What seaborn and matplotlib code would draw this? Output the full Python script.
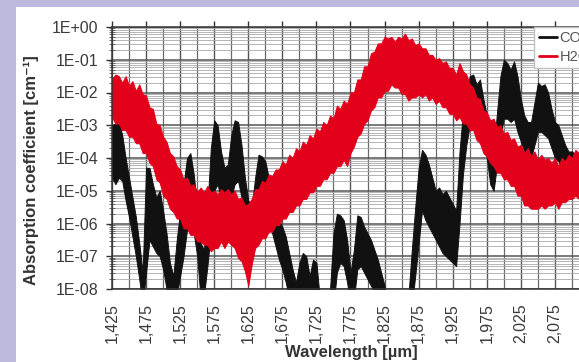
import numpy as np
import pandas as pd
import matplotlib
matplotlib.use("Agg")
import matplotlib.pyplot as plt
import seaborn as sns
from matplotlib.patches import Rectangle
from matplotlib.ticker import FixedLocator, LogLocator, NullFormatter

# ---------------- data ----------------
wavelength_um = [
    1.425, 1.430, 1.435, 1.440, 1.445, 1.450, 1.455, 1.460, 1.465, 1.470,
    1.475, 1.480, 1.485, 1.490, 1.495, 1.500, 1.505, 1.510, 1.515, 1.520,
    1.525, 1.530, 1.535, 1.540, 1.545, 1.550, 1.555, 1.560, 1.565, 1.570,
    1.575, 1.580, 1.585, 1.590, 1.595, 1.600, 1.605, 1.610, 1.615, 1.620,
    1.625, 1.630, 1.635, 1.640, 1.645, 1.650, 1.655, 1.660, 1.665, 1.670,
    1.675, 1.680, 1.685, 1.690, 1.695, 1.700, 1.705, 1.710, 1.715, 1.720,
    1.725, 1.730, 1.735, 1.740, 1.745, 1.750, 1.755, 1.760, 1.765, 1.770,
    1.775, 1.780, 1.785, 1.790, 1.795, 1.800, 1.805, 1.810, 1.815, 1.820,
    1.825, 1.830, 1.835, 1.840, 1.845, 1.850, 1.855, 1.860, 1.865, 1.870,
    1.875, 1.880, 1.885, 1.890, 1.895, 1.900, 1.905, 1.910, 1.915, 1.920,
    1.925, 1.930, 1.935, 1.940, 1.945, 1.950, 1.955, 1.960, 1.965, 1.970,
    1.975, 1.980, 1.985, 1.990, 1.995, 2.000, 2.005, 2.010, 2.015, 2.020,
    2.025, 2.030, 2.035, 2.040, 2.045, 2.050, 2.055, 2.060, 2.065, 2.070,
    2.075, 2.080, 2.085, 2.090, 2.095, 2.100, 2.105, 2.110,
]

# log10 of absorption coefficient [cm^-1]: upper and lower envelope of each band
co2_upper_exp = [
    -3.0, -2.95, -2.9, -3.3, -4.0, -4.6, -5.2, -5.8, -6.6, -7.5,
    -4.3, -4.3, -4.8, -5.2, -5.0, -5.6, -6.3, -7.2, -7.6, -6.5,
    -5.6, -4.8, -4.0, -3.85, -4.5, -5.5, -6.6, -6.8, -5.5, -3.7,
    -2.85, -3.0, -3.8, -4.3, -4.2, -3.3, -2.85, -2.9, -3.6, -4.6,
    -5.3, -5.5, -4.6, -3.9, -3.95, -4.1, -4.6, -5.0, -5.5, -5.9,
    -6.1, -6.4, -6.9, -7.4, -7.8, -7.2, -6.9, -7.0, -7.6, -7.1,
    -7.2, -8.3, -9.0, -9.0, -8.0, -6.3, -5.7, -5.75, -5.9, -6.5,
    -7.5, -6.8, -5.75, -5.8, -6.1, -6.3, -6.5, -6.8, -7.1, -7.5,
    -7.9, -9.0, -9.0, -9.0, -9.0, -9.0, -9.0, -8.2, -6.8, -5.5,
    -4.3, -3.75, -3.9, -4.2, -4.6, -5.0, -4.9, -5.1, -5.0, -5.2,
    -5.4, -5.6, -3.8, -2.6, -2.0, -1.5, -1.45, -1.75, -1.6, -2.2,
    -2.7, -3.5, -3.8, -2.6, -1.5, -1.0, -1.1, -1.3, -1.05, -1.5,
    -2.2, -2.7, -2.9, -2.9, -2.3, -1.7, -1.8, -1.75, -2.0, -2.5,
    -2.9, -3.0, -3.3, -3.6, -3.8, -3.8, -3.9, -3.9,
]
co2_lower_exp = [
    -4.6, -4.8, -4.6, -4.7, -5.3, -5.8, -6.4, -7.0, -7.7, -8.5,
    -7.5, -6.5, -6.7, -6.9, -7.0, -7.4, -8.0, -8.5, -8.5, -8.2,
    -7.6, -7.0, -6.2, -5.8, -6.3, -7.0, -8.3, -8.2, -7.3, -6.3,
    -5.0, -4.8, -5.3, -5.8, -5.8, -5.2, -4.8, -4.7, -5.2, -5.8,
    -6.4, -6.6, -6.2, -5.6, -5.5, -5.6, -5.9, -6.3, -6.7, -7.1,
    -7.4, -7.8, -8.3, -8.5, -8.5, -8.5, -8.3, -8.3, -8.5, -8.5,
    -8.5, -9.0, -9.5, -9.5, -9.0, -8.5, -7.5, -7.2, -7.3, -7.8,
    -8.5, -8.3, -7.4, -7.3, -7.5, -7.7, -7.9, -8.1, -8.3, -8.5,
    -9.0, -9.5, -9.5, -9.5, -9.5, -9.5, -9.5, -9.0, -8.5, -7.6,
    -6.6, -5.6, -5.9, -6.1, -6.3, -6.5, -6.7, -6.9, -7.0, -7.1,
    -7.2, -7.3, -6.0, -4.5, -3.6, -3.0, -2.9, -3.1, -3.0, -3.5,
    -4.0, -4.8, -5.0, -4.2, -3.3, -2.8, -2.8, -2.9, -2.8, -3.2,
    -3.5, -3.8, -4.0, -4.0, -3.6, -3.2, -3.2, -3.3, -3.4, -3.7,
    -4.0, -4.1, -4.3, -4.4, -4.5, -4.5, -4.5, -4.5,
]
h2o_upper_exp = [
    -1.6, -1.45, -1.5, -1.7, -1.5, -1.8, -1.65, -1.95, -1.75, -2.05,
    -2.1, -2.45, -2.5, -2.95, -3.0, -3.35, -3.5, -3.85, -3.95, -4.25,
    -4.35, -4.65, -4.6, -4.85, -4.8, -5.05, -4.9, -5.05, -4.85, -5.05,
    -5.0, -5.1, -4.95, -5.05, -4.95, -5.1, -5.0, -5.25, -5.2, -5.45,
    -5.4, -5.25, -4.95, -4.95, -4.7, -4.75, -4.5, -4.55, -4.35, -4.35,
    -4.1, -4.2, -3.9, -4.0, -3.7, -3.8, -3.5, -3.6, -3.3, -3.4,
    -3.1, -3.2, -2.9, -3.0, -2.7, -2.8, -2.4, -2.5, -2.25, -2.35,
    -2.0, -2.0, -1.6, -1.6, -1.2, -1.2, -0.8, -0.75, -0.5, -0.5,
    -0.3, -0.35, -0.3, -0.45, -0.3, -0.35, -0.2, -0.4, -0.35, -0.55,
    -0.5, -0.65, -0.65, -0.85, -0.85, -1.0, -0.95, -1.1, -1.05, -1.25,
    -1.25, -1.45, -1.1, -1.35, -1.45, -1.75, -1.85, -2.15, -2.2, -2.55,
    -2.6, -2.85, -2.8, -3.05, -3.0, -3.25, -3.2, -3.45, -3.4, -3.65,
    -3.6, -3.85, -3.7, -3.95, -3.8, -4.05, -3.9, -4.05, -4.0, -4.15,
    -4.0, -4.25, -4.0, -4.1, -3.9, -4.0, -3.75, -3.85,
]
h2o_lower_exp = [
    -2.75, -2.95, -2.95, -3.15, -3.15, -3.35, -3.35, -3.55, -3.55, -3.85,
    -3.85, -4.15, -4.25, -4.65, -4.75, -5.15, -5.25, -5.55, -5.65, -5.85,
    -5.85, -6.15, -6.15, -6.35, -6.35, -6.55, -6.55, -6.65, -6.65, -6.85,
    -6.75, -6.75, -6.55, -6.75, -6.55, -6.65, -6.75, -7.05, -7.15, -7.45,
    -7.9, -7.25, -6.75, -6.65, -6.45, -6.45, -6.25, -6.25, -6.05, -6.05,
    -5.85, -5.85, -5.65, -5.65, -5.45, -5.45, -5.25, -5.25, -5.05, -5.05,
    -4.85, -4.85, -4.65, -4.65, -4.45, -4.45, -4.25, -4.25, -4.05, -4.25,
    -3.85, -3.65, -3.35, -3.25, -2.95, -2.85, -2.55, -2.45, -2.15, -2.15,
    -1.95, -1.95, -1.75, -1.85, -1.85, -2.05, -2.05, -2.25, -2.15, -2.15,
    -2.05, -2.15, -2.05, -2.25, -2.15, -2.35, -2.25, -2.45, -2.45, -2.65,
    -2.65, -2.85, -2.75, -2.95, -2.95, -3.15, -3.15, -3.45, -3.55, -3.85,
    -3.95, -4.15, -4.25, -4.45, -4.45, -4.65, -4.65, -4.85, -4.85, -5.15,
    -5.15, -5.45, -5.45, -5.55, -5.55, -5.55, -5.45, -5.55, -5.45, -5.45,
    -5.35, -5.55, -5.35, -5.35, -5.25, -5.25, -5.15, -5.25,
]

series_names = ["CO2", "H2O"]
xtick_values = [1.425, 1.475, 1.525, 1.575, 1.625, 1.675, 1.725, 1.775,
                1.825, 1.875, 1.925, 1.975, 2.025, 2.075]
xtick_labels = ["1,425", "1,475", "1,525", "1,575", "1,625", "1,675", "1,725",
                "1,775", "1,825", "1,875", "1,925", "1,975", "2,025", "2,075"]
ytick_values = [1e0, 1e-1, 1e-2, 1e-3, 1e-4, 1e-5, 1e-6, 1e-7, 1e-8]
ytick_labels = ["1E+00", "1E-01", "1E-02", "1E-03", "1E-04", "1E-05",
                "1E-06", "1E-07", "1E-08"]
x_label = "Wavelength [µm]"
y_label = "Absorption coefficient [cm⁻¹]"

# ---------------- build long table ----------------
rows = []
for name, up, lo in [("CO2", co2_upper_exp, co2_lower_exp),
                     ("H2O", h2o_upper_exp, h2o_lower_exp)]:
    assert len(up) == len(lo) == len(wavelength_um)
    for w, u, l in zip(wavelength_um, up, lo):
        rows.append({"wl": w, "gas": name, "value": 10.0 ** u})
        rows.append({"wl": w, "gas": name, "value": 10.0 ** l})
df = pd.DataFrame(rows)

# ---------------- style ----------------
sns.set_theme(style="white")
plt.rcParams["font.family"] = ["Liberation Sans", "DejaVu Sans"]

W, H = 579, 362
fig = plt.figure(figsize=(W / 100, H / 100), dpi=100)
fig.patch.set_facecolor("#bdb9dc")
fig.patches.append(Rectangle((16 / W, 0), 1, (H - 7) / H, transform=fig.transFigure,
                             facecolor="white", edgecolor="none", zorder=-10))

ax = fig.add_axes([112 / W, (H - 289) / H, 477 / W, 262 / H])
ax.set_zorder(5)
ax.set_facecolor("white")
ax.set_yscale("log")
ax.set_xlim(1.425, 2.125)
ax.set_ylim(1e-8, 1e0)

black = "#111111"
red = "#e3001b"
sns.lineplot(data=df, x="wl", y="value", hue="gas", hue_order=series_names,
             palette=[black, red], estimator="mean", errorbar=("pi", 100),
             err_kws={"alpha": 1.0, "linewidth": 0.7}, linewidth=0.8,
             ax=ax, legend=True)
# bands (min-max of each spectrum) carry the picture; keep the centre lines hidden beneath
for coll, col, z in zip(ax.collections, [black, red], [1.0, 1.2]):
    coll.set_edgecolor(col)
    coll.set_zorder(z)
for ln in ax.lines:
    ln.set_zorder(0.9)

# grid
ax.xaxis.set_major_locator(FixedLocator(xtick_values))
ax.xaxis.set_minor_locator(FixedLocator([v + 0.025 for v in xtick_values]))
ax.yaxis.set_major_locator(FixedLocator(ytick_values))
ax.yaxis.set_minor_locator(LogLocator(base=10, subs=range(2, 10), numticks=20))
ax.yaxis.set_minor_formatter(NullFormatter())
ax.set_axisbelow(True)
ax.grid(True, which="major", axis="y", color="#555555", linewidth=1.1)
ax.grid(True, which="minor", axis="y", color="#a8a8a8", linewidth=0.6)
ax.grid(True, which="major", axis="x", color="#555555", linewidth=1.0)
ax.grid(True, which="minor", axis="x", color="#6a6a6a", linewidth=0.9)

ax.set_xticks(xtick_values)
ax.set_xticklabels(xtick_labels, rotation=90)
ax.set_yticks(ytick_values)
ax.set_yticklabels(ytick_labels)
ax.set_xlim(1.425, 2.125)
ax.set_ylim(1e-8, 1e0)

ax.tick_params(axis="x", which="major", bottom=False, top=True, labelbottom=True,
               labeltop=False, direction="out", length=4, width=1, color="#333333",
               labelsize=11.5, labelcolor="#3a3a3a", pad=6)
ax.tick_params(axis="x", which="minor", bottom=False, top=False)
ax.tick_params(axis="y", which="major", left=True, direction="out", length=4, width=1,
               color="#333333", labelsize=11.5, labelcolor="#3a3a3a", pad=6)
ax.tick_params(axis="y", which="minor", left=True, direction="inout", length=4,
               width=0.6, color="#555555")

for side in ["left", "bottom", "top"]:
    ax.spines[side].set_visible(True)
    ax.spines[side].set_color("#333333")
    ax.spines[side].set_linewidth(1.1)
ax.spines["right"].set_visible(False)

ax.set_xlabel("")
ax.set_ylabel("")

# legend (partially cut by the picture edge, like the reference)
handles, labels = ax.get_legend_handles_labels()
leg = ax.legend(handles, labels, loc="upper left", bbox_to_anchor=(0.885, 1.0),
                frameon=True, fancybox=False, framealpha=1.0, edgecolor="#c0c0c0",
                fontsize=10.5, handlelength=1.3, handletextpad=0.15,
                borderpad=0.3, labelspacing=0.3, borderaxespad=0.0)
leg.set_zorder(10)
for t in leg.get_texts():
    t.set_color("#555555")
for h in leg.legend_handles:
    h.set_linewidth(2.0)

fig.text(31 / W, 1 - 170 / H, y_label, rotation=90, ha="center", va="center",
         fontsize=12, fontweight="bold", color="#333333")
fig.text(351 / W, 1 - 353 / H, x_label, ha="center", va="center",
         fontsize=12, fontweight="bold", color="#333333")

fig.savefig("out.png", dpi=100, facecolor=fig.get_facecolor())
